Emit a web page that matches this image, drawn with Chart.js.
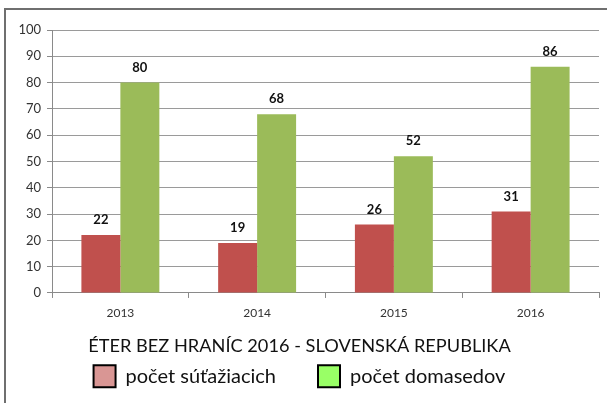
<!DOCTYPE html>
<html>
<head>
<meta charset="utf-8">
<script src="https://cdn.jsdelivr.net/npm/chart.js@4"></script>
<style>
  html, body { margin: 0; padding: 0; background: #fff; }
  #wrap { position: relative; width: 607px; height: 403px; overflow: hidden; }
  #frame { position: absolute; left: 4px; top: 8px; width: 700px; height: 500px; border-top: 2px solid #6f6f6f; border-left: 2px solid #6f6f6f; pointer-events: none; }
  canvas { position: absolute; left: 0; top: 0; }
</style>
</head>
<body>
<div id="wrap">
  <canvas id="c" width="607" height="403"></canvas>
  <div id="frame"></div>
</div>
<script>
const categories = ['2013', '2014', '2015', '2016'];
const contestants = [22, 19, 26, 31];
const homeListeners = [80, 68, 52, 86];
const seriesNames = ['počet súťažiacich', 'počet domasedov'];
const chartTitle = 'ÉTER BEZ HRANÍC 2016 - SLOVENSKÁ REPUBLIKA';

const barColors = ['#c0504d', '#9bbb59'];
const legendColors = ['#d99694', '#99ff66'];
const FONT = 'Lato, "Open Sans", sans-serif';

const valueLabels = {
  id: 'valueLabels',
  afterDatasetsDraw(chart) {
    const ctx = chart.ctx;
    ctx.save();
    ctx.font = 'bold 13px ' + FONT;
    ctx.fillStyle = '#111';
    ctx.textAlign = 'center';
    ctx.textBaseline = 'middle';
    chart.data.datasets.forEach((ds, i) => {
      const meta = chart.getDatasetMeta(i);
      meta.data.forEach((el, j) => {
        ctx.fillText(String(ds.data[j]), el.x, el.y - 15);
      });
    });
    ctx.restore();
  }
};

new Chart(document.getElementById('c'), {
  type: 'bar',
  data: {
    labels: categories,
    datasets: [
      { label: seriesNames[0], data: contestants, backgroundColor: barColors[0] },
      { label: seriesNames[1], data: homeListeners, backgroundColor: barColors[1] }
    ]
  },
  options: {
    responsive: false,
    animation: false,
    devicePixelRatio: 1,
    layout: { padding: { left: 0, right: 8, top: 30, bottom: 5.7 } },
    datasets: { bar: { barPercentage: 1.0, categoryPercentage: 0.57 } },
    scales: {
      x: {
        offset: true,
        grid: { display: true, drawOnChartArea: false, offset: true, color: '#8a8a8a', tickLength: 5, tickColor: '#8a8a8a' },
        border: { display: true, color: '#8a8a8a' },
        ticks: { color: '#333', font: { family: FONT, size: 12 }, padding: 8 },
        afterFit(s) { s.height = 30; }
      },
      y: {
        min: 0, max: 100,
        ticks: { stepSize: 10, color: '#333', font: { family: FONT, size: 13 }, padding: 6 },
        grid: { color: '#9a9a9a', tickLength: 5, tickColor: '#8a8a8a' },
        border: { display: true, color: '#8a8a8a' },
        afterFit(s) { s.width = 52; }
      }
    },
    plugins: {
      tooltip: { enabled: false },
      title: {
        display: true,
        text: chartTitle,
        position: 'bottom',
        color: '#111',
        font: { family: FONT, size: 18.2, weight: 'normal' },
        padding: { top: 12, bottom: -33.5 },
        weight: 100
      },
      legend: {
        display: true,
        position: 'bottom',
        weight: 5000,
        labels: {
          color: '#111',
          font: { family: FONT, size: 20 },
          boxWidth: 22,
          boxHeight: 22,
          padding: 42,
          generateLabels(chart) {
            return chart.data.datasets.map((ds, i) => ({
              text: ds.label,
              fillStyle: legendColors[i],
              strokeStyle: '#000',
              lineWidth: 2,
              hidden: false,
              datasetIndex: i,
              fontColor: '#111'
            }));
          }
        }
      }
    }
  },
  plugins: [valueLabels]
});
</script>
</body>
</html>
